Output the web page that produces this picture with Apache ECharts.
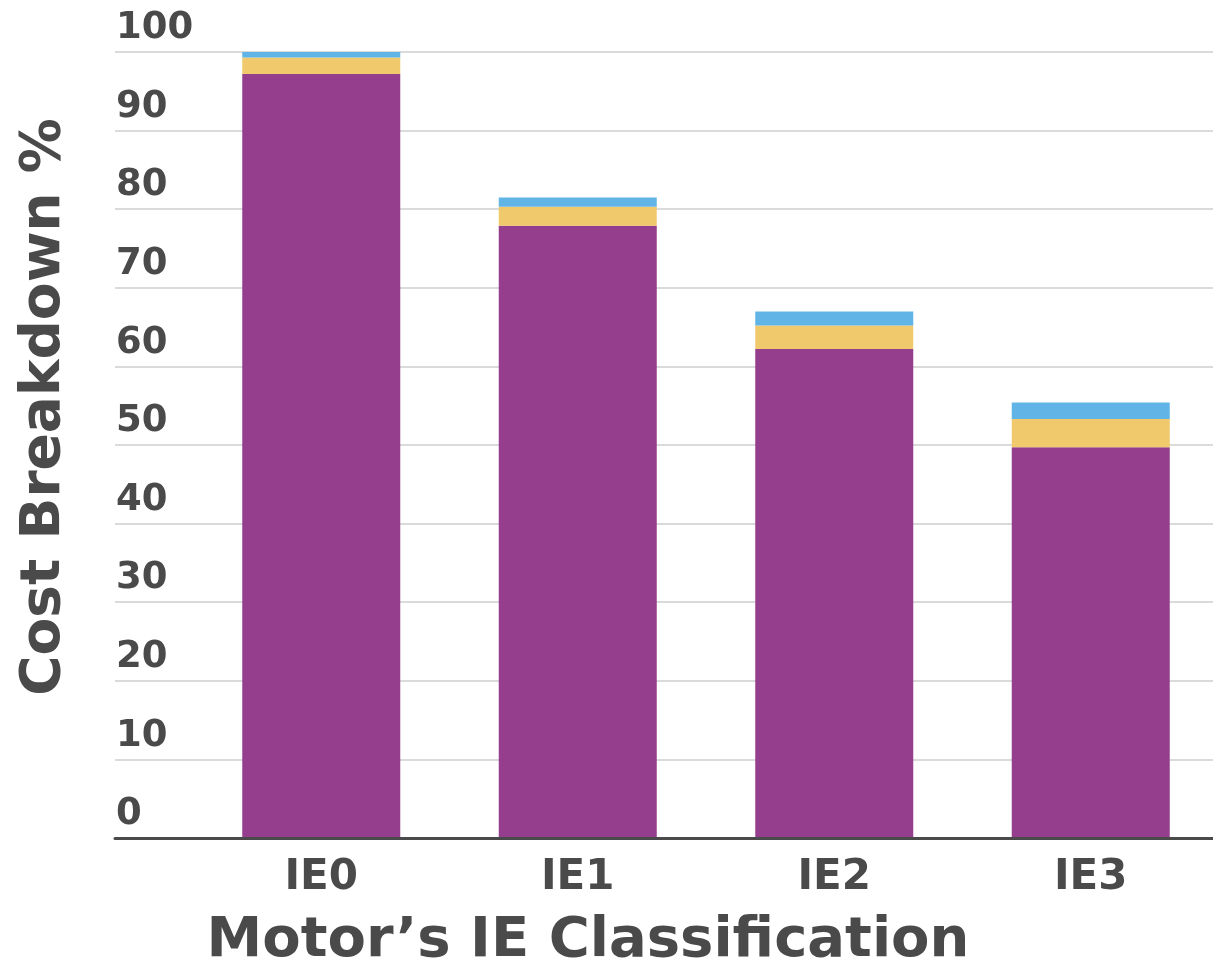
<!DOCTYPE html>
<html>
<head>
<meta charset="utf-8">
<script src="https://cdn.jsdelivr.net/npm/echarts@6/dist/echarts.min.js"></script>
<style>
  html, body { margin: 0; padding: 0; background: #fff; }
  #chart { width: 1213px; height: 971px; }
</style>
</head>
<body>
<div id="chart"></div>
<script>
const categories = ['IE0', 'IE1', 'IE2', 'IE3']
// stacked segments (% of IE0 total)
const baseCost = [97.2, 77.9, 62.2, 49.7]
const midCost = [2.1, 2.4, 3.0, 3.6]
const topCost = [0.7, 1.2, 1.8, 2.1]
const yTicks = { min: 0, max: 100, interval: 10 }

const textColor = '#4a4a4a'
const font = 'DejaVu Sans'

const chart = echarts.init(document.getElementById('chart'))

chart.setOption({
  animation: false,
  grid: [
    // full-width grid for gridlines and the y labels
    { left: 115, right: 0, top: 52, bottom: 133 },
    // bars grid, runs a little past the right edge
    { left: 193, width: 1026, top: 52, bottom: 133, outerBoundsMode: 'none' }
  ],
  xAxis: [
    {
      gridIndex: 0,
      type: 'category',
      data: [''],
      z: 5,
      axisLine: { lineStyle: { color: textColor, width: 3 } },
      axisTick: { show: false },
      axisLabel: { show: false }
    },
    {
      gridIndex: 1,
      type: 'category',
      data: categories,
      axisLine: { show: false },
      axisTick: { show: false },
      axisLabel: {
        color: textColor,
        fontFamily: font,
        fontWeight: 'bold',
        fontSize: 42,
        margin: 19
      }
    }
  ],
  yAxis: [
    {
      gridIndex: 0,
      type: 'value',
      min: yTicks.min,
      max: yTicks.max,
      interval: yTicks.interval,
      axisLine: { show: false },
      axisTick: { show: false },
      splitLine: { lineStyle: { color: '#dadada', width: 2 } },
      axisLabel: {
        inside: true,
        margin: 1,
        align: 'left',
        verticalAlign: 'bottom',
        padding: [0, 0, 5, 0],
        color: textColor,
        fontFamily: font,
        fontWeight: 'bold',
        fontSize: 37
      }
    },
    {
      gridIndex: 1,
      type: 'value',
      min: yTicks.min,
      max: yTicks.max,
      show: false
    }
  ],
  series: [
    { data: baseCost, color: '#953e8d' },
    { data: midCost, color: '#f0c96c' },
    { data: topCost, color: '#60b5e6' }
  ].map((s) => ({
    type: 'bar',
    stack: 'cost',
    xAxisIndex: 1,
    yAxisIndex: 1,
    barWidth: 158,
    data: s.data,
    itemStyle: { color: s.color }
  })),
  graphic: [
    {
      type: 'text',
      x: 45,
      y: 407,
      rotation: Math.PI / 2,
      style: {
        text: 'Cost Breakdown %',
        fill: textColor,
        font: 'bold 55px "DejaVu Sans"',
        textAlign: 'center',
        textVerticalAlign: 'middle'
      }
    },
    {
      type: 'text',
      x: 588,
      y: 941,
      style: {
        text: 'Motor’s IE Classification',
        fill: textColor,
        font: 'bold 56px "DejaVu Sans"',
        textAlign: 'center',
        textVerticalAlign: 'middle'
      }
    }
  ]
})
</script>
</body>
</html>
